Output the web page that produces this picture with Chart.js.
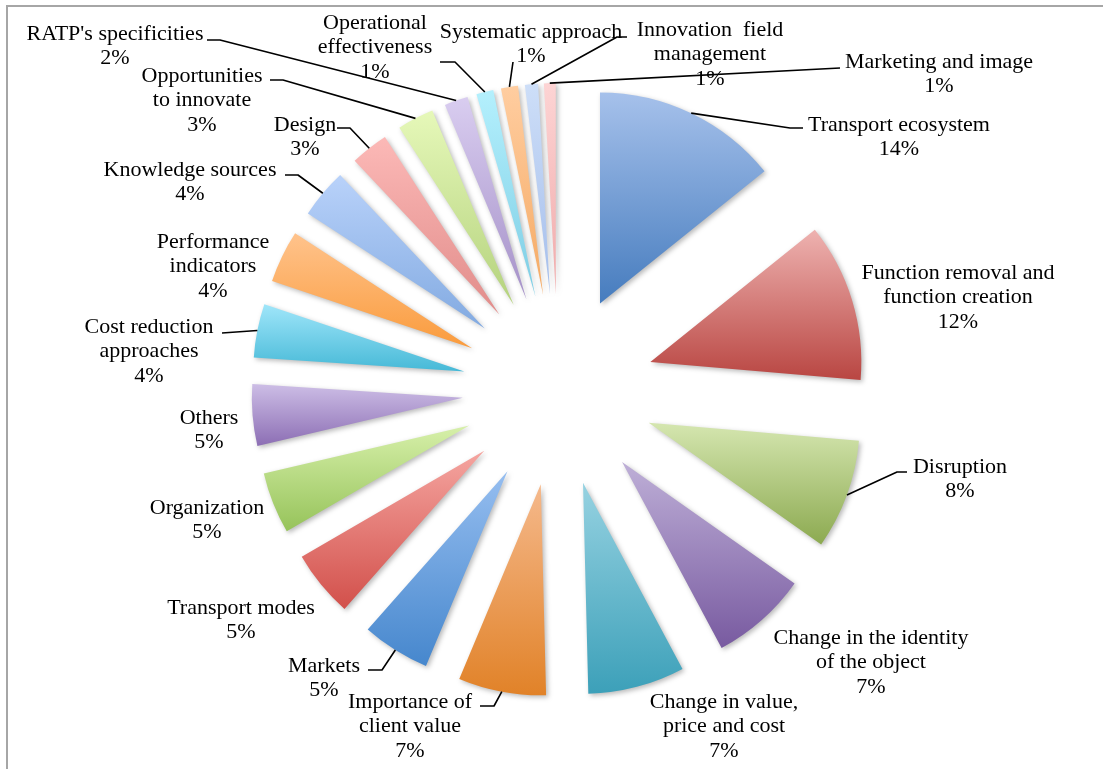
<!DOCTYPE html>
<html>
<head>
<meta charset="utf-8">
<script src="https://cdn.jsdelivr.net/npm/chart.js@4/dist/chart.umd.min.js"></script>
<style>
  html, body { margin: 0; padding: 0; background: #ffffff; }
  canvas { display: block; }
</style>
</head>
<body>
<canvas id="c" width="1103" height="769"></canvas>
<script>
// ---------- DATA ----------
const categories = [
  "Transport ecosystem",
  "Function removal and\nfunction creation",
  "Disruption",
  "Change in the identity\nof the object",
  "Change in value,\nprice and cost",
  "Importance of\nclient value",
  "Markets",
  "Transport modes",
  "Organization",
  "Others",
  "Cost reduction\napproaches",
  "Performance\nindicators",
  "Knowledge sources",
  "Design",
  "Opportunities\nto innovate",
  "RATP's specificities",
  "Operational\neffectiveness",
  "Systematic approach",
  "Innovation  field\nmanagement",
  "Marketing and image"
];
const values = [14.2, 12.1, 8.4, 7.4, 7.4, 6.7, 5.2, 5.1, 4.7, 4.7, 4.1, 4.0, 3.8, 2.9, 2.8, 1.8, 1.3, 1.3, 1.0, 0.9];

// ---------- STYLE ----------
const lightColors = ["#a6c1eb","#eeb2b0","#d5e6b0","#beafd7","#96d2e1","#f5b98c","#96bef0","#f5a5a0","#d7f0aa","#cdbee6",
                     "#a0e6fa","#ffc38c","#b9d2fa","#fcb9b7","#e6f8b9","#d9cdf0","#b4f0fd","#ffcda0","#cddef8","#fdd4d4"];
const darkColors  = ["#467cbe","#b94642","#8caa50","#785aa0","#3ca0b9","#e18228","#4687cd","#d2504b","#96c35a","#8c6eb4",
                     "#46b9d7","#fa9b3c","#82aae1","#e18c8a","#b4d27d","#a591c8","#7dcde4","#f5aa64","#a5beeb","#f0aaaa"];

// ---------- LAYOUT (label centres and leader-line bend points) ----------
const labelPos = [
  [899,125],[958,273],[960,467],[871,638],[724,702],[410,702],[324,666],[241,608],[207,508],[209,418],
  [149,327],[213,242],[190,170],[305,125],[202,76],[115,34],[375,23],[531,32],[710,30],[939,62]
];
const leaders = [
  [[790,128],[803,128]], null, [[897,472],[907,472]], null, null,
  [[494,706],[480,706]], [[382,670],[368,670]], null, null, null,
  [[222,333]], null, [[298,175],[285,175]], [[350,128],[337,128]], [[283,80],[270,80]],
  [[220,40],[207,40]], [[455,62],[440,62]], [[513,62]], [[617,37],[627,37]], [[840,68]]
];
const EXPLODE = 96;
const RADIUS = 211;
const FONT = '22px "Liberation Serif", "Times New Roman", serif';
const LINE_H = 24.5;

const total = values.reduce((a, b) => a + b, 0);

const framePlugin = {
  id: 'frame',
  beforeDraw(chart) {
    const ctx = chart.ctx;
    ctx.save();
    ctx.fillStyle = '#ffffff';
    ctx.fillRect(0, 0, chart.width, chart.height);
    ctx.strokeStyle = '#a6a6a6';
    ctx.lineWidth = 2;
    ctx.beginPath();
    ctx.moveTo(7, chart.height + 5);
    ctx.lineTo(7, 6);
    ctx.lineTo(chart.width + 5, 6);
    ctx.stroke();
    ctx.restore();
  }
};

const explodePlugin = {
  id: 'explode',
  beforeDatasetDraw(chart, args) {
    const ctx = chart.ctx;
    const meta = args.meta;
    meta.data.forEach((arc, i) => {
      const p = arc.getProps(['x', 'y', 'startAngle', 'endAngle', 'outerRadius'], true);
      const mid = (p.startAngle + p.endAngle) / 2;
      const ox = Math.cos(mid) * EXPLODE, oy = Math.sin(mid) * EXPLODE;
      const ys = [p.y, p.y + Math.sin(p.startAngle) * p.outerRadius, p.y + Math.sin(p.endAngle) * p.outerRadius];
      [-Math.PI / 2, Math.PI / 2, 3 * Math.PI / 2].forEach(a => {
        if (a > p.startAngle && a < p.endAngle) ys.push(p.y + Math.sin(a) * p.outerRadius);
      });
      const top = Math.min(...ys), bot = Math.max(...ys);
      const g = ctx.createLinearGradient(0, top, 0, bot);
      g.addColorStop(0, lightColors[i]);
      g.addColorStop(1, darkColors[i]);
      const saved = arc.options;
      arc.options = Object.assign({}, saved, { backgroundColor: g, borderWidth: 0 });
      ctx.save();
      ctx.translate(ox, oy);
      ctx.shadowColor = 'rgba(0,0,0,0.28)';
      ctx.shadowBlur = 5;
      ctx.shadowOffsetX = 2;
      ctx.shadowOffsetY = 2;
      arc.draw(ctx);
      ctx.restore();
      arc.options = saved;
    });
    return false;
  }
};

const labelPlugin = {
  id: 'sliceLabels',
  afterDraw(chart) {
    const ctx = chart.ctx;
    const meta = chart.getDatasetMeta(0);
    ctx.save();
    // leader lines
    ctx.strokeStyle = '#000000';
    ctx.lineWidth = 1.6;
    ctx.lineJoin = 'round';
    meta.data.forEach((arc, i) => {
      if (!leaders[i]) return;
      const p = arc.getProps(['x', 'y', 'startAngle', 'endAngle', 'outerRadius'], true);
      const mid = (p.startAngle + p.endAngle) / 2;
      const r = EXPLODE + p.outerRadius;
      ctx.beginPath();
      ctx.moveTo(p.x + Math.cos(mid) * r, p.y + Math.sin(mid) * r);
      leaders[i].forEach(pt => ctx.lineTo(pt[0], pt[1]));
      ctx.stroke();
    });
    // text
    ctx.fillStyle = '#000000';
    ctx.font = FONT;
    ctx.textAlign = 'center';
    ctx.textBaseline = 'middle';
    categories.forEach((name, i) => {
      const lines = name.split('\n');
      lines.push(Math.round(values[i] / total * 100) + '%');
      const [cx, cy] = labelPos[i];
      lines.forEach((ln, k) => ctx.fillText(ln, cx, cy + k * LINE_H));
    });
    ctx.restore();
  }
};

new Chart(document.getElementById('c'), {
  type: 'pie',
  data: {
    labels: categories,
    datasets: [{
      data: values,
      backgroundColor: lightColors,
      borderWidth: 0,
      radius: RADIUS,
      offset: 0,
      clip: false
    }]
  },
  options: {
    responsive: false,
    animation: false,
    layout: { padding: { left: 14, right: 0, top: 11, bottom: 0 } },
    plugins: {
      legend: { display: false },
      tooltip: { enabled: false }
    },
    events: []
  },
  plugins: [framePlugin, explodePlugin, labelPlugin]
});
</script>
</body>
</html>
